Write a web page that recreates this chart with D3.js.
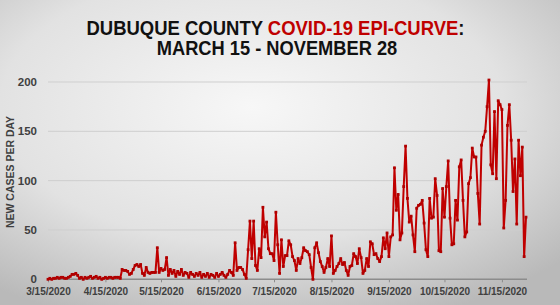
<!DOCTYPE html>
<html>
<head>
<meta charset="utf-8">
<script src="https://cdn.jsdelivr.net/npm/d3@7.9.0/dist/d3.min.js"></script>
<style>
  html, body { margin: 0; padding: 0; }
  body { width: 560px; height: 305px; overflow: hidden; }
  svg { display: block; font-family: "Liberation Sans", Arial, sans-serif; }
</style>
</head>
<body>
<svg width="560" height="305"></svg>
<script>
// first day of the series, one value per day after it
const startDate = "2020-03-15";
const endDate = "2020-11-28";

// new cases per day (3/15 .. 11/28)
const newCases = [
  0,1,0,1,1,2,1,2,2,1,1,2,3,
  5,5,6,4,
  1,2,0,2,1,2,3,1,2,3,1,2,0,1,2,1,2,2,1,2,2,2,1,
  10,9,9,8,5,6,10,14,15,13,15,6,4,12,7,6,7,7,7,32,7,
  11,9,10,22,4,10,6,9,3,8,5,10,4,7,6,2,7,5,3,6,4,7,2,5,3,6,2,5,4,2,6,3,5,7,4,2,5,9,7,4,
  37,9,12,12,10,5,1,30,59,21,59,14,9,31,22,73,43,58,31,26,26,19,68,35,6,40,13,24,24,39,
  35,23,19,9,21,16,22,32,29,28,25,12,0,32,37,27,18,13,7,12,21,13,44,
  6,9,13,16,21,15,17,9,4,13,14,26,23,16,31,22,6,9,21,13,38,36,25,26,21,18,23,42,31,47,23,43,45,
  113,70,86,40,47,94,135,
  82,58,64,45,28,72,75,76,80,57,30,23,
  82,62,63,102,85,29,28,92,63,94,120,62,35,36,80,60,114,121,80,43,48,97,103,133,124,124,87,56,136,144,150,175,
  202,116,107,170,102,181,177,172,
  52,80,156,177,141,89,122,56,141,105,134,23,63
];

const yTicks = [0, 50, 100, 150, 200];
const xTickLabels = ["3/15/2020", "4/15/2020", "5/15/2020", "6/15/2020", "7/15/2020",
  "8/15/2020", "9/15/2020", "10/15/2020", "11/15/2020"];

const parse = d3.timeParse("%Y-%m-%d");
const t0 = parse(startDate);
const data = newCases.map((v, i) => ({ date: d3.timeDay.offset(t0, i), value: v }));

const svg = d3.select("svg");
const W = 560, H = 305;

// background: soft grey gradient like the slide
const defs = svg.append("defs");
const grad = defs.append("radialGradient")
  .attr("id", "bg").attr("cx", "45%").attr("cy", "35%").attr("r", "75%");
grad.append("stop").attr("offset", "0%").attr("stop-color", "#f7f7f7");
grad.append("stop").attr("offset", "60%").attr("stop-color", "#e2e2e2");
grad.append("stop").attr("offset", "100%").attr("stop-color", "#b9b9b9");
svg.append("rect").attr("width", W).attr("height", H).attr("fill", "url(#bg)");

// scales
const x = d3.scaleTime()
  .domain([t0, parse(endDate)])
  .range([48, 526]);
const y = d3.scaleLinear().domain([0, 200]).range([279.3, 82]);

// title (the slide font is narrower than Arial, so squeeze it horizontally)
const title = svg.append("text")
  .attr("transform", "translate(275.5,35) scale(0.88,1)")
  .attr("text-anchor", "middle")
  .attr("font-size", 21).attr("font-weight", "bold")
  .attr("fill", "#111");
title.append("tspan").text("DUBUQUE COUNTY ");
title.append("tspan").attr("fill", "#c00000").text("COVID-19 EPI-CURVE");
title.append("tspan").text(":");

svg.append("text")
  .attr("transform", "translate(277,55) scale(0.87,1)")
  .attr("text-anchor", "middle")
  .attr("font-size", 21).attr("font-weight", "bold")
  .attr("fill", "#111")
  .text("MARCH 15 - NOVEMBER 28");

// gridlines
svg.append("g")
  .selectAll("line")
  .data(yTicks.filter(d => d > 0))
  .join("line")
  .attr("x1", 48).attr("x2", 527)
  .attr("y1", d => y(d)).attr("y2", d => y(d))
  .attr("stroke", "#cfcfcf").attr("stroke-width", 1);

// y axis labels
svg.append("g")
  .selectAll("text")
  .data(yTicks)
  .join("text")
  .attr("x", 37).attr("y", d => y(d) + 4)
  .attr("text-anchor", "end")
  .attr("font-size", 11.5).attr("font-weight", "bold")
  .attr("fill", "#404040")
  .text(d => d);

// y axis title
svg.append("text")
  .attr("transform", "translate(14,172) rotate(-90)")
  .attr("text-anchor", "middle")
  .attr("font-size", 10.5).attr("font-weight", "bold")
  .attr("fill", "#404040")
  .text("NEW CASES PER DAY");

// x axis
const xTickDates = xTickLabels.map(d3.timeParse("%m/%d/%Y"));
const xAxis = d3.axisBottom(x)
  .tickValues(xTickDates)
  .tickSize(3)
  .tickFormat((d, i) => xTickLabels[i]);
const gx = svg.append("g")
  .attr("transform", "translate(0,279.3)")
  .call(xAxis);
gx.select(".domain").attr("d", "M48,0H527").attr("stroke", "#8c8c8c").attr("stroke-width", 1.6);
gx.selectAll(".tick line").attr("stroke", "#8c8c8c");
gx.selectAll(".tick text")
  .attr("dy", 0).attr("y", 16)
  .attr("font-family", "Liberation Sans, Arial, sans-serif")
  .attr("font-size", 10).attr("font-weight", "bold")
  .attr("fill", "#404040");

// the curve
const line = d3.line()
  .x(d => x(d.date))
  .y(d => y(d.value));

svg.append("path")
  .datum(data)
  .attr("d", line)
  .attr("fill", "none")
  .attr("stroke", "#c00000")
  .attr("stroke-width", 2)
  .attr("stroke-linejoin", "round");

svg.append("g")
  .selectAll("rect")
  .data(data)
  .join("rect")
  .attr("x", d => x(d.date) - 1.4)
  .attr("y", d => y(d.value) - 1.4)
  .attr("width", 2.8).attr("height", 2.8)
  .attr("fill", "#b00000");
</script>
</body>
</html>
